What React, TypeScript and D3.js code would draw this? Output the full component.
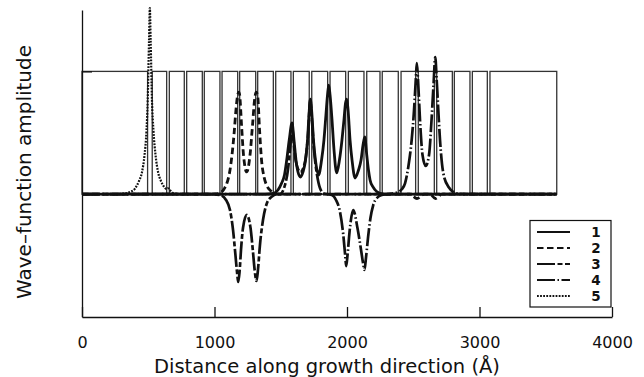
import React, { useEffect, useRef } from 'react';
import * as d3 from 'd3';

// barrier layers of the superlattice, [start, end] in Angstrom (height = 1)
const barriers: [number, number][] = [
  [0, 495], [530, 639], [659, 772], [790, 908], [923, 1041], [1057, 1175],
  [1190, 1311], [1326, 1444], [1462, 1577], [1595, 1715], [1734, 1854],
  [1872, 1990], [2010, 2128], [2149, 2249], [2266, 2387], [2408, 2518],
  [2538, 2659], [2677, 2795], [2810, 2928], [2946, 3059], [3079, 3583]
];

const xTicks = [0, 1000, 2000, 3000, 4000];
const yTicks = [0, 1];

// wave functions, [distance (A), amplitude]
const state1: [number, number][] = [
  [0, 0], [1381, 0], [1442, 0.006], [1479, 0.034], [1507, 0.091], [1528, 0.156],
  [1545, 0.278], [1564, 0.441], [1585, 0.58], [1600, 0.441], [1615, 0.278],
  [1630, 0.181], [1649, 0.14], [1668, 0.181], [1687, 0.278], [1702, 0.441],
  [1713, 0.644], [1723, 0.775], [1734, 0.669], [1747, 0.441], [1762, 0.278],
  [1785, 0.156], [1808, 0.278], [1826, 0.441], [1841, 0.644], [1853, 0.808],
  [1862, 0.889], [1872, 0.808], [1887, 0.604], [1902, 0.36], [1922, 0.173],
  [1943, 0.278], [1962, 0.441], [1977, 0.604], [1989, 0.743], [1998, 0.775],
  [2008, 0.686], [2023, 0.441], [2038, 0.278], [2061, 0.132], [2087, 0.197],
  [2106, 0.278], [2121, 0.401], [2134, 0.466], [2149, 0.319], [2162, 0.197],
  [2174, 0.116], [2196, 0.059], [2224, 0.022], [2272, 0.002], [2325, 0], [3583, 0]
];

const state2: [number, number][] = [
  [0, 0], [891, 0], [1004, 0.002], [1042, 0.01], [1072, 0.042], [1094, 0.091],
  [1117, 0.197], [1132, 0.319], [1147, 0.482], [1162, 0.686], [1175, 0.808],
  [1183, 0.832], [1190, 0.808], [1204, 0.563], [1219, 0.319], [1243, 0.181],
  [1268, 0.319], [1287, 0.563], [1304, 0.783], [1315, 0.832], [1326, 0.8],
  [1340, 0.523], [1355, 0.278], [1374, 0.14], [1396, 0.067], [1426, 0.026],
  [1472, 0.002], [1570, 0], [2475, 0], [2528, -0.035], [2581, 0], [2626, 0],
  [2668, -0.035], [2717, 0], [3583, 0]
];

const state3: [number, number][] = [
  [0, 0], [966, 0], [1042, -0.007], [1087, -0.047], [1117, -0.129], [1140, -0.292],
  [1158, -0.495], [1170, -0.634], [1179, -0.715], [1189, -0.634], [1200, -0.454],
  [1215, -0.275], [1243, -0.169], [1272, -0.275], [1289, -0.454], [1303, -0.617],
  [1317, -0.707], [1328, -0.617], [1343, -0.414], [1366, -0.21], [1396, -0.072],
  [1434, -0.019], [1472, 0], [1494, 0], [1532, 0.075], [1554, 0.197], [1573, 0.401],
  [1585, 0.563], [1596, 0.441], [1615, 0.262], [1649, 0.181], [1683, 0.262],
  [1706, 0.482], [1723, 0.767], [1735, 0.604], [1751, 0.36], [1774, 0.156],
  [1796, 0.05], [1826, 0.006], [1872, 0], [3583, 0]
];

const state4: [number, number][] = [
  [0, 0], [1834, 0], [1885, -0.007], [1917, -0.047], [1947, -0.143], [1972, -0.332],
  [1986, -0.495], [1994, -0.585], [2004, -0.495], [2019, -0.308], [2047, -0.129],
  [2079, -0.275], [2106, -0.454], [2121, -0.56], [2132, -0.617], [2143, -0.52],
  [2161, -0.332], [2177, -0.194], [2198, -0.088], [2226, -0.031], [2262, -0.007],
  [2309, 0], [2387, 0.018], [2415, 0.042], [2438, 0.089], [2463, 0.224],
  [2488, 0.441], [2506, 0.686], [2519, 0.93], [2527, 1.068], [2536, 0.93],
  [2551, 0.604], [2570, 0.319], [2594, 0.23], [2619, 0.319], [2638, 0.604],
  [2653, 0.889], [2666, 1.117], [2677, 0.93], [2691, 0.644], [2702, 0.441],
  [2727, 0.17], [2765, 0.061], [2828, 0.007], [2913, 0], [3583, 0]
];

const state5: [number, number][] = [
  [0, 0], [249, 0], [325, 0.006], [362, 0.018], [400, 0.046], [430, 0.107],
  [453, 0.181], [472, 0.319], [487, 0.523], [496, 0.767], [506, 1.256],
  [512, 1.516], [518, 1.256], [528, 0.767], [539, 0.523], [555, 0.319],
  [574, 0.181], [596, 0.107], [623, 0.055], [638, 0.042], [649, 0.048],
  [660, 0.038], [687, 0.01], [740, 0], [3583, 0]
];

const seriesLabels = ['1', '2', '3', '4', '5'];

export default function App() {
  const svgRef = useRef<SVGSVGElement>(null);

  useEffect(() => {
    if (!svgRef.current) return;
    const svg = d3.select(svgRef.current);
    svg.selectAll('*').remove();

    const font = "'DejaVu Sans', sans-serif";
    const ink = '#111';

    const x = d3.scaleLinear().domain([0, 4000]).range([82, 612]);
    const y = d3.scaleLinear().domain([-1, 1.5]).range([317, 10]);

    // barrier boxes
    svg.append('g')
      .selectAll('rect')
      .data(barriers)
      .enter()
      .append('rect')
      .attr('x', d => x(d[0]))
      .attr('y', y(1))
      .attr('width', d => x(d[1]) - x(d[0]))
      .attr('height', y(0) - y(1))
      .attr('fill', 'none')
      .attr('stroke', '#333')
      .attr('stroke-width', 1.3);

    // curves
    const styles = [
      { data: state1, dash: null, width: 2.8 },
      { data: state2, dash: '6.5,3.5', width: 2.8 },
      { data: state3, dash: '18,2.5,5,2.5', width: 2.7 },
      { data: state4, dash: '18,2.5,1.5,2.5', width: 2.7 },
      { data: state5, dash: '1.8,1.3', width: 2.2 }
    ];

    const line = d3.line<[number, number]>()
      .x(d => x(d[0]))
      .y(d => y(d[1]))
      .curve(d3.curveMonotoneX);

    styles.forEach(s => {
      svg.append('path')
        .datum(s.data)
        .attr('fill', 'none')
        .attr('stroke', ink)
        .attr('stroke-width', s.width)
        .attr('stroke-linejoin', 'round')
        .attr('stroke-dasharray', s.dash)
        .attr('d', line);
    });

    // axes
    const xAxis = svg.append('g')
      .attr('transform', `translate(0,${y(-1)})`)
      .call(d3.axisBottom(x).tickValues(xTicks).tickSize(-10).tickSizeOuter(0).tickPadding(20).tickFormat(d3.format('d')));
    xAxis.select('.domain').attr('stroke', ink).attr('stroke-width', 1.3);
    xAxis.selectAll('.tick line').attr('stroke', ink).attr('stroke-width', 1.3);
    xAxis.selectAll('.tick text').attr('font-family', font).attr('font-size', 16).attr('fill', ink);

    const yAxis = svg.append('g')
      .attr('transform', `translate(${x(0)},0)`)
      .call(d3.axisLeft(y).tickValues(yTicks).tickSize(-10).tickSizeOuter(0).tickFormat(() => ''));
    yAxis.select('.domain').attr('stroke', ink).attr('stroke-width', 1.3);
    yAxis.selectAll('.tick line').attr('stroke', ink).attr('stroke-width', 1.3);

    svg.append('text')
      .attr('x', 327)
      .attr('y', 373)
      .attr('text-anchor', 'middle')
      .attr('font-family', font)
      .attr('font-size', 19.5)
      .attr('fill', ink)
      .text('Distance along growth direction (Å)');

    svg.append('text')
      .attr('transform', 'translate(31,172) rotate(-90)')
      .attr('text-anchor', 'middle')
      .attr('font-family', font)
      .attr('font-size', 20)
      .attr('fill', ink)
      .text('Wave–function amplitude');

    // legend
    const legend = svg.append('g').attr('transform', 'translate(530,220.5)');
    legend.append('rect')
      .attr('width', 81)
      .attr('height', 86.5)
      .attr('fill', 'white')
      .attr('stroke', ink)
      .attr('stroke-width', 1.2);
    styles.forEach((s, i) => {
      const ly = 11.5 + i * 16;
      legend.append('line')
        .attr('x1', 7)
        .attr('x2', 40)
        .attr('y1', ly)
        .attr('y2', ly)
        .attr('stroke', ink)
        .attr('stroke-width', 1.8)
        .attr('stroke-dasharray', s.dash);
      legend.append('text')
        .attr('x', 66)
        .attr('y', ly + 5)
        .attr('text-anchor', 'middle')
        .attr('font-family', font)
        .attr('font-weight', 'bold')
        .attr('font-size', 13.5)
        .attr('fill', ink)
        .text(seriesLabels[i]);
    });
  }, []);

  return (
    <svg
      ref={svgRef}
      width={644}
      height={377}
      style={{ position: 'absolute', left: 0, top: 0, background: 'white' }}
    />
  );
}
